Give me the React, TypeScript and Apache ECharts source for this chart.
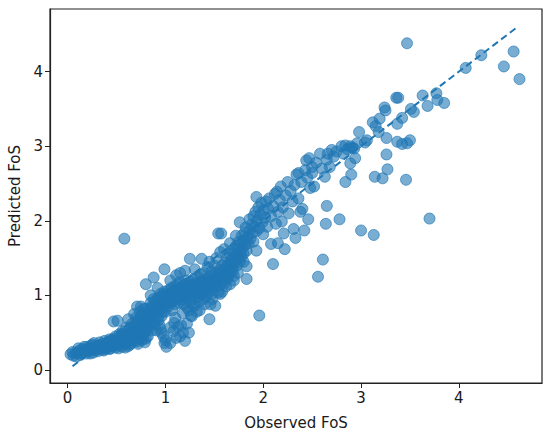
import React, { useEffect, useRef } from "react";
import * as echarts from "echarts";

const xTicks = [0, 1, 2, 3, 4];
const yTicks = [0, 1, 2, 3, 4];
const identityLine = [
  [0.05, 0.05],
  [4.6, 4.6],
];

const lowBand = [
  [0.03,0.21],[0.06,0.19],[0.08,0.23],[0.10,0.22],[0.12,0.26],[0.13,0.20],[0.15,0.28],[0.16,0.24],[0.18,0.27],[0.19,0.22],[0.20,0.31],[0.21,0.25],[0.22,0.29],[0.24,0.27],[0.25,0.34],[0.26,0.23],[0.27,0.30],[0.28,0.26],[0.29,0.32],[0.30,0.28],[0.31,0.25],[0.32,0.33],[0.33,0.29],[0.34,0.31],[0.35,0.27],[0.36,0.35],[0.37,0.30],[0.38,0.33],[0.39,0.28],[0.40,0.36],[0.41,0.31],[0.42,0.38],[0.43,0.28],[0.44,0.34],[0.45,0.40],[0.46,0.32],[0.47,0.36],[0.48,0.42],[0.49,0.30],[0.50,0.38],[0.47,0.65],[0.51,0.66],
  [0.05,0.24],[0.09,0.18],[0.11,0.29],[0.14,0.23],[0.17,0.31],[0.20,0.26],[0.23,0.22],[0.24,0.32],[0.27,0.36],[0.29,0.27],[0.32,0.30],[0.33,0.37],[0.35,0.32],[0.37,0.26],[0.38,0.39],[0.40,0.30],[0.42,0.33],[0.43,0.41],[0.44,0.29],[0.46,0.37],[0.48,0.33],[0.49,0.45],[0.51,0.40],[0.52,0.29],
];

const midLowBand = [
  [0.52,0.33],[0.53,0.41],[0.54,0.37],[0.55,0.45],[0.56,0.31],[0.57,0.39],[0.58,0.48],[0.59,0.35],[0.60,0.43],[0.61,0.52],[0.62,0.32],[0.62,0.40],[0.63,0.47],[0.64,0.56],[0.65,0.36],[0.66,0.44],[0.67,0.51],[0.68,0.60],[0.69,0.39],[0.70,0.47],[0.70,0.55],[0.71,0.66],[0.72,0.35],[0.72,0.43],[0.73,0.52],[0.74,0.62],[0.75,0.72],[0.76,0.40],[0.76,0.48],[0.77,0.57],[0.78,0.67],[0.78,0.82],[0.79,0.37],[0.80,0.52],[0.80,0.62],[0.71,0.85],[0.80,1.15],[0.58,1.76],
  [0.53,0.48],[0.55,0.36],[0.56,0.52],[0.57,0.43],[0.59,0.30],[0.60,0.57],[0.61,0.38],[0.63,0.42],[0.64,0.34],[0.65,0.50],[0.66,0.62],[0.67,0.40],[0.68,0.46],[0.69,0.55],[0.70,0.70],[0.71,0.38],[0.72,0.60],[0.73,0.45],[0.74,0.78],[0.75,0.55],[0.77,0.44],[0.77,0.74],[0.78,0.50],[0.79,0.60],[0.80,0.70],[0.80,0.42],
  [0.75,0.85],[0.68,0.75],[0.62,0.68],[0.85,1.00],
];

const nearOneBand = [
  [0.81,0.72],[0.82,0.45],[0.82,0.58],[0.83,0.66],[0.84,0.80],[0.84,0.62],[0.85,0.90],[0.86,0.53],[0.86,0.70],[0.87,0.76],[0.88,0.85],[0.88,0.95],[0.88,1.24],[0.89,0.62],[0.90,0.72],[0.90,0.80],[0.91,0.88],[0.91,0.53],[0.92,0.96],[0.93,0.67],[0.93,0.78],[0.94,0.86],[0.95,0.92],[0.95,1.02],[0.96,0.72],[0.97,0.82],[0.97,0.89],[0.98,0.96],[0.99,1.05],[0.99,1.35],[1.00,0.78],[1.00,0.88],[1.00,0.95],[1.00,0.40],[1.01,0.31],[0.99,0.36],[0.98,0.45],[0.96,0.50],[0.95,0.55],
  [0.81,0.82],[0.82,0.68],[0.83,0.55],[0.85,0.74],[0.86,0.85],[0.87,0.64],[0.89,0.78],[0.90,0.92],[0.92,0.84],[0.92,0.70],[0.94,0.96],[0.94,0.60],[0.96,0.86],[0.97,1.00],[0.98,0.78],[0.99,0.92],
  [0.92,1.10],
];

const midBand = [
  [1.02,0.92],[1.02,1.00],[1.03,1.07],[1.03,0.85],[1.04,0.96],[1.05,1.03],[1.05,0.57],[1.06,0.90],[1.06,1.10],[1.07,0.98],[1.07,0.80],[1.08,1.04],[1.08,0.93],[1.09,1.12],[1.09,0.63],[1.10,1.00],[1.10,0.88],[1.11,1.06],[1.11,0.43],[1.11,1.27],[1.12,0.95],[1.12,1.15],[1.13,1.02],[1.13,0.58],[1.14,0.90],[1.14,1.09],[1.15,0.98],[1.15,1.18],[1.16,1.04],[1.16,0.60],[1.17,0.94],[1.17,1.12],[1.18,1.00],[1.18,0.50],[1.19,1.08],[1.19,0.88],[1.20,1.15],[1.20,1.02],[1.20,1.33],[1.20,0.39],[1.21,0.96],[1.21,1.20],[1.22,1.06],[1.22,0.84],[1.23,1.12],[1.23,0.98],[1.24,1.04],[1.24,0.50],[1.25,1.18],[1.25,1.49],[1.25,0.90],[1.26,1.08],[1.26,0.73],[1.27,1.00],[1.27,1.14],[1.28,1.06],[1.28,0.86],[1.29,1.22],[1.29,0.95],[1.30,1.10],[1.30,0.86],[1.31,1.02],[1.31,1.16],[1.32,1.08],[1.32,0.78],[1.33,1.25],[1.33,0.98],[1.34,1.12],[1.34,1.04],[1.35,1.18],[1.35,0.92],[1.36,1.08],[1.36,1.28],[1.37,1.14],[1.37,1.49],[1.38,1.02],[1.38,1.20],[1.39,1.10],[1.39,0.95],[1.40,1.16],[1.40,1.30],[1.41,1.06],[1.42,1.22],[1.42,0.98],[1.43,1.12],[1.43,1.38],[1.44,1.18],[1.44,1.04],[1.45,1.25],[1.45,0.68],[1.46,1.14],[1.46,0.88],[1.47,1.20],[1.47,1.32],[1.48,1.10],[1.48,1.02],[1.49,1.26],[1.50,1.16],[1.50,1.40],
  [1.05,0.36],[1.08,0.52],[1.15,0.45],[1.22,0.62],[1.27,0.72],[1.51,0.86],[1.56,1.02],[1.54,1.04],
  [1.01,1.02],[1.04,0.90],[1.06,1.00],[1.09,1.05],[1.12,1.08],[1.14,0.98],[1.17,1.05],[1.19,1.14],[1.23,1.06],[1.26,1.12],[1.29,1.04],[1.33,1.14],[1.36,1.02],[1.39,1.16],[1.41,1.12],[1.44,1.10],[1.47,1.16],[1.49,1.20],
  [1.45,1.45],[1.48,0.95],[1.30,1.35],[1.15,1.30],[1.05,1.20],[1.35,0.80],[1.40,0.88],[1.10,0.70],[1.18,0.76],[1.24,0.80],
];

const upperMidBand = [
  [1.51,1.22],[1.52,1.12],[1.52,1.30],[1.53,1.18],[1.54,1.26],[1.54,1.83],[1.55,1.14],[1.55,1.34],[1.56,1.22],[1.56,1.58],[1.57,1.30],[1.57,1.83],[1.58,1.18],[1.58,1.40],[1.59,1.26],[1.60,1.34],[1.60,1.16],[1.61,1.44],[1.62,1.28],[1.62,1.38],[1.63,1.22],[1.63,1.50],[1.64,1.34],[1.64,1.24],[1.65,1.42],[1.66,1.30],[1.66,1.15],[1.66,1.55],[1.67,1.46],[1.68,1.36],[1.68,1.60],[1.69,1.33],[1.69,1.50],[1.70,1.42],[1.70,1.26],[1.71,1.56],[1.72,1.46],[1.72,1.66],[1.73,1.40],[1.73,1.55],[1.74,1.62],[1.75,1.50],[1.75,1.72],[1.76,1.45],[1.76,1.98],[1.77,1.58],[1.77,1.70],[1.78,1.52],[1.78,1.80],[1.79,1.64],[1.80,1.74],[1.80,1.56],[1.81,1.84],[1.82,1.68],[1.82,1.91],[1.83,1.22],[1.83,1.39],[1.83,1.60],[1.84,1.78],[1.85,1.70],[1.86,1.88],[1.86,2.02],[1.87,1.76],[1.88,1.95],[1.89,1.84],[1.90,2.06],[1.90,1.72],[1.91,1.92],[1.92,2.12],[1.93,1.60],[1.93,1.86],[1.93,2.32],[1.94,2.00],[1.95,2.18],[1.96,0.73],[1.96,1.90],[1.97,2.08],[1.98,2.24],[1.99,1.98],[2.00,2.14],[2.00,1.82],
  [1.52,1.50],[1.58,1.05],[1.62,1.12],[1.70,1.20],[1.74,1.30],[1.80,1.45],[1.66,1.70],[1.72,1.80],[1.60,1.62],
];

const highBand = [
  [2.02,2.04],[2.03,2.26],[2.04,1.92],[2.05,2.16],[2.06,2.30],[2.08,2.06],[2.08,1.69],[2.10,1.42],[2.10,2.20],[2.12,2.36],[2.13,1.96],[2.14,2.39],[2.15,2.12],[2.15,1.70],[2.17,2.28],[2.18,2.46],[2.19,1.99],[2.20,2.18],[2.21,1.83],[2.22,1.62],[2.23,2.34],[2.25,2.52],[2.26,2.10],[2.28,2.40],[2.30,2.26],[2.31,1.89],[2.32,2.48],[2.33,1.77],[2.34,2.62],[2.36,2.64],[2.36,2.30],[2.38,2.12],[2.39,2.52],[2.40,2.16],[2.42,1.87],[2.43,2.68],[2.44,2.81],[2.45,2.58],[2.46,2.02],[2.47,2.84],[2.48,2.44],[2.50,2.64],[2.50,2.72],
  [2.52,2.46],[2.54,2.78],[2.56,1.25],[2.58,2.90],[2.60,2.70],[2.61,1.48],[2.63,2.59],[2.64,1.96],[2.65,2.20],[2.65,2.82],[2.66,2.90],[2.68,2.72],[2.70,2.95],[2.72,2.86],[2.75,2.93],[2.78,2.02],[2.80,3.00],[2.82,2.90],[2.84,2.52],[2.84,3.01],[2.86,2.96],[2.89,2.77],[2.89,3.00],[2.90,2.62],[2.91,2.98],[2.93,2.97],[2.94,2.84],[2.96,3.04],[2.98,3.19],[3.00,1.87],
];

const topBand = [
  [3.04,3.05],[3.06,3.08],[3.12,3.32],[3.13,1.81],[3.14,2.59],[3.15,3.27],[3.18,3.19],[3.19,3.37],[3.22,2.57],[3.24,3.52],[3.25,3.48],[3.26,3.11],[3.26,2.89],[3.27,2.69],[3.36,3.65],[3.38,3.65],[3.37,3.30],[3.37,3.06],[3.42,3.38],[3.42,3.03],[3.46,2.55],[3.47,3.04],[3.47,4.38],[3.50,3.08],[3.51,3.50],[3.54,3.46],[3.63,3.68],[3.68,3.54],[3.70,2.03],[3.77,3.71],[3.78,3.62],[3.85,3.58],[4.07,4.05],[4.23,4.22],[4.46,4.07],[4.56,4.27],[4.62,3.90],
];

const points = [
  ...lowBand,
  ...midLowBand,
  ...nearOneBand,
  ...midBand,
  ...upperMidBand,
  ...highBand,
  ...topBand,
];

const FONT = "DejaVu Sans";
const TXT = "#1a1a1a";

export default function App() {
  const ref = useRef<HTMLDivElement>(null);
  useEffect(() => {
    if (!ref.current) return;
    const chart = echarts.init(ref.current, undefined, { renderer: "svg" });
    chart.setOption({
      animation: false,
      grid: {
        left: 50,
        top: 9,
        right: 8,
        bottom: 54,
        containLabel: false,
        outerBoundsMode: "none",
        show: true,
        borderColor: "#222",
        borderWidth: 1.2,
        backgroundColor: "transparent",
      },
      xAxis: {
        type: "value",
        min: -0.18,
        max: 4.85,
        name: "Observed FoS",
        nameLocation: "middle",
        nameGap: 32,
        nameTextStyle: { fontFamily: FONT, fontSize: 15, color: TXT },
        splitLine: { show: false },
        axisLine: { show: true, onZero: false, lineStyle: { color: "#222", width: 1.2 } },
        axisTick: { show: true, length: 5, customValues: xTicks, lineStyle: { color: "#222" } },
        axisLabel: {
          customValues: xTicks,
          fontFamily: FONT,
          fontSize: 15,
          color: TXT,
          margin: 7,
          formatter: (v: number) => String(Math.round(v)),
        },
      },
      yAxis: {
        type: "value",
        min: -0.175,
        max: 4.84,
        name: "Predicted FoS",
        nameLocation: "middle",
        nameGap: 27,
        nameRotate: 90,
        nameTextStyle: { fontFamily: FONT, fontSize: 15, color: TXT },
        splitLine: { show: false },
        axisLine: { show: true, onZero: false, lineStyle: { color: "#222", width: 1.2 } },
        axisTick: { show: true, length: 5, customValues: yTicks, lineStyle: { color: "#222" } },
        axisLabel: {
          customValues: yTicks,
          fontFamily: FONT,
          fontSize: 15,
          color: TXT,
          margin: 7,
          formatter: (v: number) => String(Math.round(v)),
        },
      },
      series: [
        {
          type: "scatter",
          data: points,
          symbolSize: 11,
          itemStyle: {
            color: "rgba(31,119,180,0.75)",
            borderColor: "rgba(31,119,180,0.8)",
            borderWidth: 1,
          },
          z: 2,
        },
        {
          type: "line",
          data: identityLine,
          symbol: "none",
          lineStyle: { color: "#1f77b4", width: 2, type: [7, 4] },
          z: 3,
        },
      ],
    });
    return () => chart.dispose();
  }, []);
  return (
    <div
      ref={ref}
      style={{ position: "absolute", left: 0, top: 0, width: 550, height: 437 }}
    />
  );
}
